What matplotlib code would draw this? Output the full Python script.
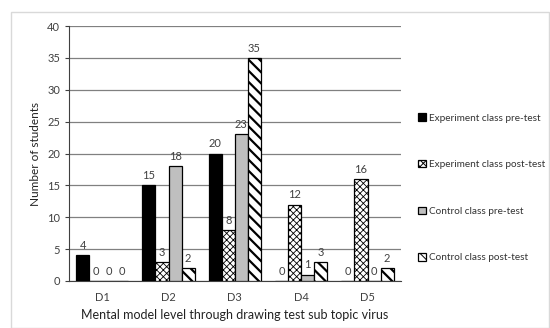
import numpy as np
import matplotlib.pyplot as plt
from matplotlib.patches import Rectangle

categories = ['D1', 'D2', 'D3', 'D4', 'D5']
series = ['Experiment class pre-test', 'Experiment class post-test',
          'Control class pre-test', 'Control class post-test']
exp_pre = [4, 15, 20, 0, 0]
exp_post = [0, 3, 8, 12, 16]
ctrl_pre = [0, 18, 23, 1, 0]
ctrl_post = [0, 2, 35, 3, 2]

plt.rcParams['font.family'] = ['Lato', 'DejaVu Sans']
plt.rcParams['hatch.linewidth'] = 0.7

fig = plt.figure(figsize=(5.5, 3.28), dpi=100)
ax = fig.add_axes([0.1255, 0.1433, 0.603, 0.7774])

# outer light frame
fig.patches.append(Rectangle((0.02, 0.0), 0.978, 0.963, transform=fig.transFigure,
                             fill=False, edgecolor='#d9d9d9', linewidth=1))

x = np.arange(len(categories))
w = 0.197
styles = [
    dict(color='black', hatch=None, hlw=0.7),
    dict(color='white', hatch='xxxxx', hlw=0.6),
    dict(color='#bfbfbf', hatch=None, hlw=0.7),
    dict(color='white', hatch='\\\\\\', hlw=1.6),
]
values = [exp_pre, exp_post, ctrl_pre, ctrl_post]
for i, (vals, st, name) in enumerate(zip(values, styles, series)):
    pos = x + (i - 1.5) * w
    bars = ax.bar(pos, vals, width=w, color=st['color'], hatch=st['hatch'],
                  edgecolor='black', linewidth=0.9, label=name, zorder=3)
    for b in bars:
        if hasattr(b, 'set_hatch_linewidth'):
            b.set_hatch_linewidth(st['hlw'])
    for p, v in zip(pos, vals):
        ax.annotate(str(v), (p, v), xytext=(0, 3), textcoords='offset points',
                    ha='center', va='bottom', fontsize=8, color='#404040')

ax.set_xlim(-0.5, 4.5)
ax.set_ylim(0, 40)
ax.set_yticks(range(0, 41, 5))
ax.set_xticks(x)
ax.set_xticklabels(categories)
ax.tick_params(axis='x', length=0, pad=8, labelsize=8, colors='#404040')
ax.tick_params(axis='y', length=3, labelsize=8, colors='#404040', direction='out')
ax.yaxis.grid(True, color='#808080', linewidth=0.9, zorder=0)
ax.set_axisbelow(True)
for s in ['top', 'right']:
    ax.spines[s].set_visible(False)
ax.spines['left'].set_color('#404040')
ax.spines['bottom'].set_color('#404040')

ax.set_ylabel('Number of students', fontsize=8.5, color='#222222')
ax.set_xlabel('Mental model level through drawing test sub topic virus',
              fontsize=9, color='#222222', labelpad=4)

leg = ax.legend(loc='center left', bbox_to_anchor=(1.035, 0.365), frameon=False,
                fontsize=7.2, handlelength=0.75, handleheight=0.75, handletextpad=0.3,
                labelspacing=3.75, labelcolor='#333333', borderaxespad=0.2)

fig.savefig('out.png', dpi=100)
